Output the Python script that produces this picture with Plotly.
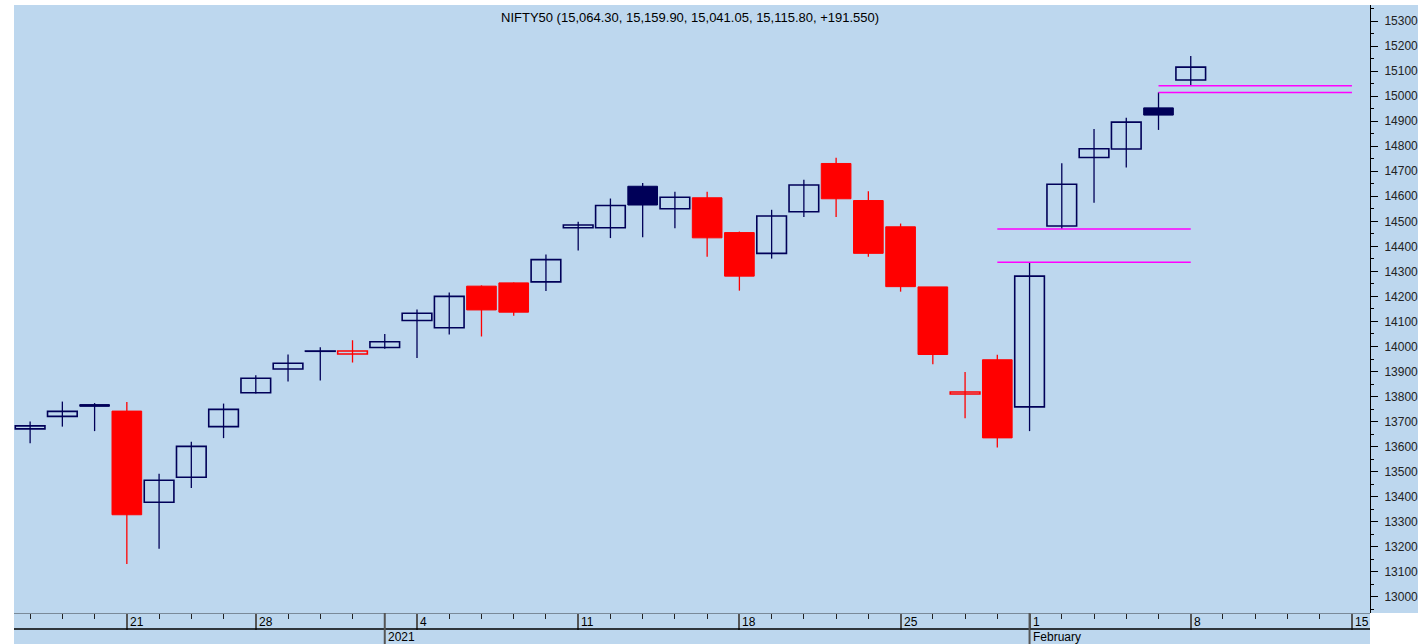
import plotly.graph_objects as go

# ---------------- data ----------------
axis_dates = [
    "2020-12-16", "2020-12-17", "2020-12-18", "2020-12-21", "2020-12-22", "2020-12-23",
    "2020-12-24", "2020-12-28", "2020-12-29", "2020-12-30", "2020-12-31", "2021-01-01",
    "2021-01-04", "2021-01-05", "2021-01-06", "2021-01-07", "2021-01-08", "2021-01-11",
    "2021-01-12", "2021-01-13", "2021-01-14", "2021-01-15", "2021-01-18", "2021-01-19",
    "2021-01-20", "2021-01-21", "2021-01-22", "2021-01-25", "2021-01-27", "2021-01-28",
    "2021-01-29", "2021-02-01", "2021-02-02", "2021-02-03", "2021-02-04", "2021-02-05",
    "2021-02-08", "2021-02-09", "2021-02-10", "2021-02-11", "2021-02-12", "2021-02-15",
]
candle_dates = axis_dates[:37]

opens = [13671, 13721, 13768, 13742, 13378, 13478, 13680, 13815, 13910, 13980.9, 13970, 13996,
         14104, 14075, 14241, 14254, 14258, 14474, 14474, 14640, 14550, 14594, 14455, 14372,
         14538, 14731, 14583, 14478, 14238, 13810, 13947, 13759, 14481, 14755, 14789, 14953,
         15064.30]
highs = [13700, 13780, 13774, 13778, 13492, 13620, 13772, 13885, 13968, 13997, 14025, 14050,
         14148, 14216, 14244, 14256, 14367, 14498, 14591, 14653, 14618, 14618, 14459, 14546,
         14666, 14754, 14620, 14491, 14238, 13898, 13967, 14336, 14732, 14869, 14914, 15015,
         15159.90]
lows = [13614, 13680, 13662, 13131, 13192, 13435, 13634, 13812, 13860, 13864, 13936, 13991,
        13954, 14048, 14040, 14123, 14222, 14383, 14433, 14436, 14472, 14358, 14223, 14351,
        14517, 14517, 14358, 14219, 13929, 13713, 13597, 13662, 14469, 14574, 14715, 14865,
        15041.05]
closes = [13683, 13741, 13761, 13328, 13466, 13601, 13749, 13873, 13933, 13981.95, 13981.75, 14019,
          14133, 14200, 14146, 14137, 14347, 14485, 14563, 14565, 14596, 14434, 14281, 14521,
          14645, 14590, 14372, 14239, 13968, 13818, 13635, 14281, 14648, 14790, 14896, 14924.25,
          15115.80]

# gap lines (level, start date, end date)
gap_levels = [14469.15, 14336.35, 15041.05, 15014.65]
gap_starts = ["2021-01-29", "2021-01-29", "2021-02-05", "2021-02-05"]
gap_ends = ["2021-02-08", "2021-02-08", "2021-02-15", "2021-02-15"]

week_dates = ["2020-12-21", "2020-12-28", "2021-01-04", "2021-01-11", "2021-01-18",
              "2021-01-25", "2021-02-01", "2021-02-08", "2021-02-15"]
week_labels = ["21", "28", "4", "11", "18", "25", "1", "8", "15"]
period_dates = ["2021-01-01", "2021-02-01"]
period_labels = ["2021", "February"]

# ---------------- style ----------------
BG = "#BDD7EE"
NAVY = "#000058"
RED = "#FF0000"
FONT = "Liberation Sans, Arial, sans-serif"

pos = {d: i for i, d in enumerate(axis_dates)}

fig = go.Figure()

groups = {}
for i, d in enumerate(candle_dates):
    o, h, l, c = opens[i], highs[i], lows[i], closes[i]
    prev = closes[i - 1] if i > 0 else o
    color = NAVY if c >= prev else RED
    hollow = c >= o
    groups.setdefault((color, hollow), []).append(i)

# wicks
for (color, hollow), idxs in groups.items():
    wx, wy = [], []
    for i in idxs:
        wx += [pos[candle_dates[i]], pos[candle_dates[i]], None]
        wy += [lows[i], highs[i], None]
    fig.add_trace(go.Scatter(x=wx, y=wy, mode="lines", line=dict(color=color, width=1.3),
                             hoverinfo="skip", showlegend=False))

# bodies
for (color, hollow), idxs in groups.items():
    xs = [pos[candle_dates[i]] for i in idxs]
    base = [min(opens[i], closes[i]) for i in idxs]
    hgt = [abs(closes[i] - opens[i]) for i in idxs]
    fig.add_trace(go.Bar(x=xs, y=hgt, base=base, width=0.92,
                         marker=dict(color=BG if hollow else color,
                                     line=dict(color=color, width=1.6 if hollow else 1)),
                         showlegend=False, hoverinfo="skip"))

# gap lines
for lv, s, e in zip(gap_levels, gap_starts, gap_ends):
    fig.add_trace(go.Scatter(x=[pos[s], pos[e]], y=[lv, lv], mode="lines",
                             line=dict(color="#FF00FF", width=1.5),
                             hoverinfo="skip", showlegend=False))

W, H = 1418, 644
ML, MR, MT, MB = 14, 48, 5, 31
PH = H - MT - MB
PW = W - ML - MR


def py(px):
    """pixel y (from top) -> paper y"""
    return (H - MB - px) / PH


shapes = []
# white strips outside
shapes.append(dict(type="rect", xref="paper", yref="paper", x0=-ML / PW - 0.01, x1=0, y0=py(H + 5), y1=py(-5),
                   fillcolor="white", line_width=0, layer="above"))
shapes.append(dict(type="rect", xref="paper", yref="paper", x0=-ML / PW - 0.01, x1=(W - ML) / PW + 0.01,
                   y0=1, y1=py(-5), fillcolor="white", line_width=0, layer="above"))
shapes.append(dict(type="rect", xref="paper", yref="paper", x0=1, x1=(W - ML) / PW + 0.01,
                   y0=py(H + 5), y1=0, fillcolor="white", line_width=0, layer="above"))
# row separator line
shapes.append(dict(type="line", xref="paper", yref="paper", x0=0, x1=1, y0=py(629), y1=py(629),
                   line=dict(color="black", width=1.5)))
# period separators
for d in period_dates:
    shapes.append(dict(type="line", xref="x", yref="paper", x0=pos[d], x1=pos[d],
                       y0=0, y1=py(H + 2), line=dict(color="#555555", width=2)))

annotations = []
for d, t in zip(week_dates, week_labels):
    annotations.append(dict(x=pos[d], xref="x", y=py(621.5), yref="paper", text=t,
                            showarrow=False, xanchor="left", yanchor="middle", xshift=1,
                            font=dict(family=FONT, size=12, color="black")))
for d, t in zip(period_dates, period_labels):
    annotations.append(dict(x=pos[d], xref="x", y=py(637), yref="paper", text=t,
                            showarrow=False, xanchor="left", yanchor="middle", xshift=1,
                            font=dict(family=FONT, size=12, color="black")))

last = len(candle_dates) - 1
chg = closes[last] - closes[last - 1]
title = "NIFTY50 ({:,.2f}, {:,.2f}, {:,.2f}, {:,.2f}, {:+.3f})".format(
    opens[last], highs[last], lows[last], closes[last], chg)
annotations.append(dict(x=0.5, xref="paper", y=py(17), yref="paper", text=title,
                        showarrow=False, xanchor="center", yanchor="middle", xshift=-2,
                        font=dict(family=FONT, size=13, color="black")))

fig.update_layout(
    width=W, height=H,
    margin=dict(l=ML, r=MR, t=MT, b=MB, pad=0, autoexpand=False),
    paper_bgcolor=BG, plot_bgcolor=BG,
    barmode="overlay",
    showlegend=False,
    shapes=shapes,
    annotations=annotations,
    font=dict(family=FONT, size=12, color="black"),
    xaxis=dict(
        range=[-0.5, 41.56], showgrid=False, zeroline=False,
        tickmode="array", tickvals=[pos[d] for d in week_dates],
        showticklabels=False, ticks="outside", ticklen=16, tickwidth=1.5, tickcolor="#555555",
        showline=True, linecolor="#7A8A99", linewidth=1,
        minor=dict(tick0=0, dtick=1, ticks="outside", ticklen=5, tickwidth=1, tickcolor="#222222"),
        fixedrange=True,
    ),
    yaxis=dict(
        side="right", range=[12935.6, 15363.9], showgrid=False, zeroline=False,
        tick0=0, dtick=100, tickformat="d", exponentformat="none",
        ticks="outside", ticklen=7, tickwidth=1, tickcolor="black",
        showline=True, linecolor="black", linewidth=1,
        minor=dict(dtick=50, ticks="outside", ticklen=3, tickwidth=1, tickcolor="black"),
        tickfont=dict(family=FONT, size=12, color="#222222"),
        ticklabelstandoff=4,
        fixedrange=True,
    ),
)

fig.write_html("out.html", config={"displayModeBar": False},
               post_script="document.body.style.margin='0';document.body.style.padding='0';")
